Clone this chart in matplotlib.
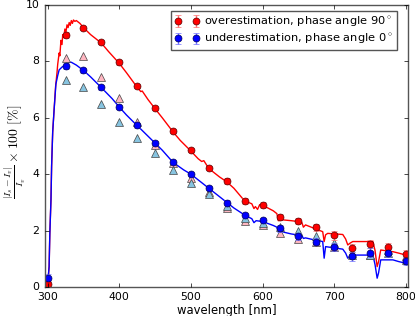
import matplotlib
matplotlib.use("Agg")
import matplotlib.pyplot as plt

plt.style.use("classic")

# measured points (every 25 nm)
wl_meas = [300, 325, 350, 375, 400, 425, 450, 475, 500, 525, 550,
           575, 600, 625, 650, 675, 700, 725, 750, 775, 800]
over_meas = [0.1, 8.94, 9.18, 8.69, 7.97, 7.13, 6.34, 5.54, 4.86, 4.22, 3.76,
             3.04, 2.90, 2.48, 2.34, 2.12, 1.83, 1.39, 1.52, 1.41, 1.16]
over_err = [0.1, 0.1, 0.08, 0.08, 0.08, 0.08, 0.08, 0.08, 0.08, 0.08, 0.1,
            0.1, 0.1, 0.12, 0.12, 0.12, 0.15, 0.15, 0.15, 0.15, 0.15]
under_meas = [0.32, 7.84, 7.68, 7.08, 6.38, 5.73, 5.10, 4.43, 4.00, 3.51, 2.99,
              2.54, 2.36, 2.08, 1.79, 1.61, 1.42, 1.08, 1.22, 1.22, 0.92]
under_err = [0.15, 0.1, 0.08, 0.08, 0.08, 0.08, 0.08, 0.08, 0.08, 0.08, 0.1,
             0.1, 0.1, 0.12, 0.12, 0.12, 0.15, 0.15, 0.15, 0.15, 0.15]

# model points (triangles)
over_model = [0.05, 8.11, 8.20, 7.46, 6.71, 5.86, 5.05, 4.40, 3.85, 3.38, 2.80,
              2.35, 2.19, 1.93, 1.70, 1.58, 1.40, 1.20, 1.12, 1.32, 1.08]
under_model = [0.05, 7.34, 7.10, 6.49, 5.86, 5.28, 4.74, 4.15, 3.68, 3.30, 2.86,
               2.45, 2.26, 2.14, 1.99, 1.79, 1.56, 1.12, 1.15, 1.20, 0.95]

# high resolution curves
wl_over_line = [300, 302, 303, 304.6, 305.5, 307, 309, 311, 313, 314, 316,
                317, 318.5, 320, 321, 322.5, 324, 325.5, 327, 328.5, 330,
                331.5, 333, 334.5, 336, 338, 340, 345, 350, 360, 370, 375,
                385, 400, 410, 425, 430, 432, 440, 450, 460, 475, 485, 500,
                510, 515, 518, 525, 540, 550, 560, 570, 575, 585, 588, 590,
                593, 596, 600, 615, 620, 622, 628, 640, 650, 655, 657, 660,
                672, 684, 686, 688, 691, 712, 716, 719, 722, 726, 754, 757,
                760, 762, 765, 782, 790, 800]
over_line = [0.1, 0.72, 1.9, 3.1, 4.3, 5.5, 6.3, 7.1, 7.6, 7.9, 8.3,
             8.2, 8.75, 8.6, 8.95, 8.85, 9.15, 9.05, 9.3, 9.2, 9.38,
             9.28, 9.45, 9.35, 9.47, 9.42, 9.45, 9.35, 9.2, 8.95, 8.75, 8.65,
             8.35, 7.93, 7.6, 7.08, 6.93, 6.95, 6.65, 6.32, 6.0, 5.5, 5.2, 4.82,
             4.55, 4.45, 4.48, 4.2, 3.9, 3.73, 3.5, 3.2, 3.05, 2.95, 2.78, 2.85,
             2.75, 2.92, 2.9, 2.7, 2.6, 2.35, 2.38, 2.35, 2.32, 2.28, 2.12, 2.2,
             2.08, 1.96, 1.61, 1.85, 1.9, 1.86, 1.7, 1.49, 1.55, 1.61, 1.61, 1.3,
             0.72, 0.9, 1.31, 1.25, 1.2, 1.13]

wl_under_line = [300, 302, 303, 304.6, 305.5, 307, 309, 311.5, 314, 316,
                 320, 325, 330, 333, 340, 350, 360, 375, 390, 400, 410, 425,
                 430, 440, 450, 460, 475, 490, 500, 510, 525, 540, 550, 560,
                 575, 585, 588, 591, 600, 615, 620, 622, 625, 640, 650, 655,
                 657, 660, 672, 684, 686, 688, 712, 716, 719, 722, 726, 754,
                 757, 760, 762, 765, 782, 790, 800]
under_line = [0.1, 0.72, 1.9, 3.1, 4.3, 5.5, 6.3, 7.2, 7.5, 7.7,
              7.8, 7.88, 7.97, 7.97, 7.87, 7.68, 7.45, 7.07, 6.68, 6.38, 6.1, 5.72,
              5.6, 5.35, 5.1, 4.85, 4.42, 4.15, 4.0, 3.8, 3.5, 3.2, 3.0, 2.8,
              2.55, 2.42, 2.28, 2.35, 2.32, 2.18, 2.12, 1.95, 1.97, 1.88, 1.84, 1.82,
              1.72, 1.74, 1.67, 1.61, 1.02, 1.43, 1.34, 1.2, 1.02, 1.08, 1.13, 1.13,
              0.8, 0.31, 0.5, 0.96, 0.96, 0.9, 0.84]

fig = plt.figure(figsize=(4.15, 3.16), dpi=100, facecolor="white")
ax = fig.add_axes([0.108, 0.092, 0.875, 0.892])

ax.plot(wl_over_line, over_line, color="red", lw=1)
ax.plot(wl_under_line, under_line, color="blue", lw=1)

ax.plot(wl_meas, over_model, "^", color="#ffb6c1", mec="#444444", mew=0.5, ms=5.5)
ax.plot(wl_meas, under_model, "^", color="#87c4e0", mec="#444444", mew=0.5, ms=5.5)

ax.errorbar(wl_meas, over_meas, yerr=over_err, fmt="o", color="red", mec="#550000",
            mew=0.5, ms=5, ecolor="#ff7070", capsize=2, elinewidth=1,
            label=r"overestimation, phase angle 90$^\circ$")
ax.errorbar(wl_meas, under_meas, yerr=under_err, fmt="o", color="blue", mec="#000055",
            mew=0.5, ms=5, ecolor="#7070ff", capsize=2, elinewidth=1,
            label=r"underestimation, phase angle 0$^\circ$")

ax.set_xlim(296, 803)
ax.set_ylim(0, 10)
ax.set_xticks([300, 400, 500, 600, 700, 800])
ax.set_yticks([0, 2, 4, 6, 8, 10])
ax.tick_params(labelsize=7.8, length=3, direction="in", top=True, right=True)
for s in ax.spines.values():
    s.set_color("#555555")

ax.set_xlabel("wavelength [nm]", fontsize=8.4, labelpad=1)
ax.set_ylabel(r"$\frac{|I_s - I_v|}{I_v} \times 100\ [\%]$", fontsize=10)
ax.yaxis.set_label_coords(-0.045, 0.48)

leg = ax.legend(loc="upper right", bbox_to_anchor=(0.97, 0.979), numpoints=2,
                fontsize=8.2, borderaxespad=0, handlelength=2.2, handletextpad=0.4,
                borderpad=0.35, labelspacing=0.3, fancybox=False)
leg.get_frame().set_edgecolor("#555555")

fig.savefig("out.png", dpi=100, facecolor="white")
